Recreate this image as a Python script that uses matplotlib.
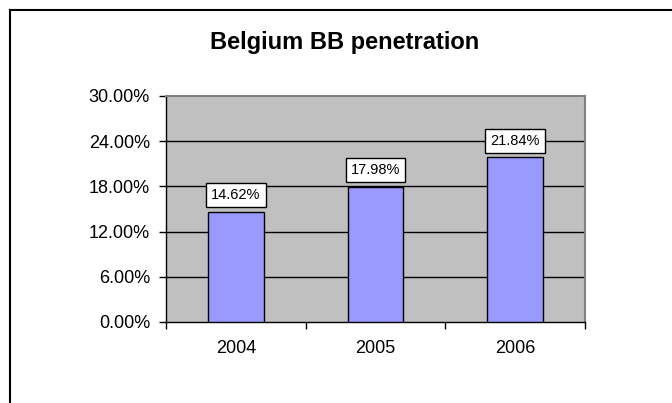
import matplotlib
matplotlib.use("Agg")
import matplotlib.pyplot as plt
from matplotlib.lines import Line2D
from matplotlib.ticker import FixedLocator, PercentFormatter

plt.rcParams['font.family'] = ['Liberation Sans', 'DejaVu Sans']

years = ["2004", "2005", "2006"]
penetration = [14.62, 17.98, 21.84]
yticks = [0, 6, 12, 18, 24, 30]
title = "Belgium BB penetration"

fig = plt.figure(figsize=(6.72, 4.03), dpi=100)
ax = fig.add_axes([166/672, 1-322/403, (585-166)/672, (322-96)/403])
ax.set_facecolor('#C0C0C0')

x = list(range(len(years)))
ax.bar(x, penetration, width=0.4, color='#9999FF', edgecolor='black', linewidth=1, zorder=3)

ax.set_xlim(-0.5, len(years) - 0.5)
ax.set_ylim(0, 30)
ax.set_yticks(yticks)
ax.yaxis.set_major_formatter(PercentFormatter(decimals=2))
ax.set_xticks(x)
ax.set_xticklabels(years)
ax.xaxis.set_minor_locator(FixedLocator([i - 0.5 for i in range(len(years) + 1)]))
ax.tick_params(axis='x', which='major', length=0, labelsize=13, pad=13)
ax.tick_params(axis='x', which='minor', length=5, width=1, direction='out')
ax.tick_params(axis='y', length=5, width=1, labelsize=13, pad=6.5)
for v in yticks[1:-1]:
    ax.axhline(v, color='black', linewidth=1, zorder=1)

for s in ['left', 'bottom']:
    ax.spines[s].set_color('black')
    ax.spines[s].set_linewidth(1)
for s in ['top', 'right']:
    ax.spines[s].set_color('#808080')
    ax.spines[s].set_linewidth(1.5)

for xi, v in zip(x, penetration):
    ax.annotate(f"{v:.2f}%", xy=(xi, v), xytext=(0, 7), textcoords='offset points',
                ha='center', va='bottom', fontsize=10.5, zorder=5,
                bbox=dict(boxstyle='square,pad=0.35', fc='white', ec='black', lw=1))

fig.text(345/672, 1-42/403, title, ha='center', va='center', fontsize=17, fontweight='bold')

fig.add_artist(Line2D([9.5/672, 1.01], [1-10/403, 1-10/403], transform=fig.transFigure, color='black', lw=1.5))
fig.add_artist(Line2D([9.5/672, 9.5/672], [1-10/403, -0.01], transform=fig.transFigure, color='black', lw=1.5))

fig.savefig("out.png", dpi=100)
